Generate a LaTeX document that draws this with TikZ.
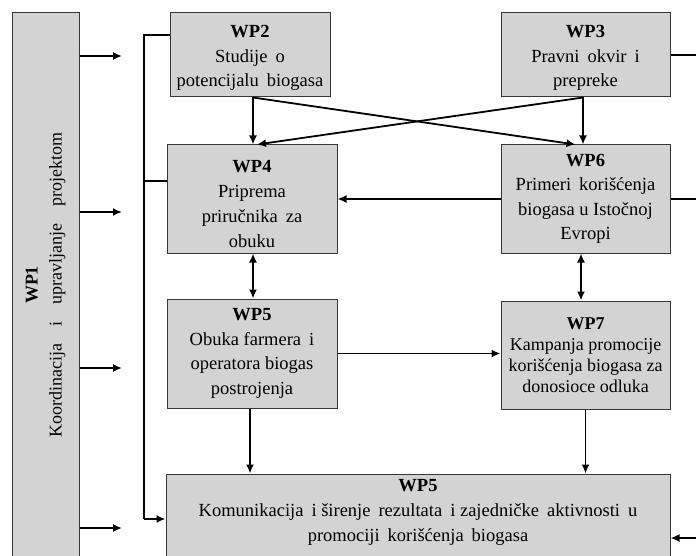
\documentclass[tikz,border=0pt]{standalone}
\usepackage{fontspec}
\setmainfont{Liberation Serif}
\usetikzlibrary{arrows.meta,calc}
\definecolor{boxfill}{RGB}{211,211,211}
\definecolor{boxline}{RGB}{55,55,55}
\newcommand{\ws}{\hspace{8pt}}
\tikzset{
  wpbox/.style={draw=boxline, fill=boxfill, line width=1pt, rectangle, inner sep=0pt,
    align=center, font=\fontsize{18.5}{24.5}\selectfont},
  arr/.style={line width=1.8pt, -{Latex[length=9pt,width=8pt]}},
  darr/.style={line width=1.8pt, {Latex[length=9pt,width=8pt]}-{Latex[length=9pt,width=8pt]}},
  plain/.style={line width=1.8pt},
  txt/.style={align=center, font=\fontsize{18.5}{25}\selectfont, inner sep=0pt}
}
\begin{document}
\begin{tikzpicture}[x=1pt,y=-1pt]
\useasboundingbox (0,0) rectangle (696,556);
\clip (0,0) rectangle (696,556);
% WP1 bar
\node[wpbox, minimum width=67pt, minimum height=550pt] (wp1) at (45.5,288) {};
\node[txt, rotate=90, anchor=center, font=\fontsize{18}{24}\selectfont] (wp1t) at (45.5,285) {\textbf{WP1}\\Koordinacija\hspace{17pt}i\hspace{17pt}upravljanje\hspace{17pt}projektom};
% boxes
\node[wpbox, minimum width=160pt, minimum height=84pt] (wp2) at (250,55) {\rule{0pt}{18pt}\textbf{WP2}\\Studije\ws o\\potencijalu\ws biogasa};
\node[wpbox, minimum width=169pt, minimum height=84pt] (wp3) at (585.5,55) {\rule{0pt}{18pt}\textbf{WP3}\\Pravni\ws okvir\ws i\\prepreke};
\node[wpbox, minimum width=170pt, minimum height=108pt,
  label={[txt, yshift=-5pt]center:\textbf{WP4}\\Priprema\\priručnika\ws za\\obuku}] (wp4) at (252,199) {};
\node[wpbox, minimum width=169pt, minimum height=108pt] (wp6) at (585.5,199) {\textbf{WP6}\\Primeri\ws korišćenja\\biogasa u Istočnoj\\Evropi};
\node[wpbox, minimum width=170pt, minimum height=109pt] (wp5m) at (252,353.5) {\textbf{WP5}\\Obuka farmera\ws i\\operatora biogas\\postrojenja};
\node[wpbox, minimum width=169pt, minimum height=108pt, font=\fontsize{18}{21}\selectfont] (wp7) at (585.5,355) {\textbf{WP7}\\Kampanja promocije\\korišćenja biogasa za\\donosioce odluka};
\node[wpbox, minimum width=504pt, minimum height=90pt] (wp5b) at (418,519) {};
\node[txt] (wp5bt) at (418,512) {\textbf{WP5}\\Komunikacija\ws i širenje\ws rezultata\ws i zajedničke\ws aktivnosti\ws u\\promociji\ws korišćenja\ws biogasa};
% WP1 outgoing arrows
\coordinate (a1) at (122,56);
\coordinate (a2) at (122,212);
\coordinate (a3) at (122,368);
\coordinate (a4) at (122,528);
\foreach \c in {a1,a2,a3,a4} \draw[arr] (\c -| wp1.east) -- (\c);
% bus line
\coordinate (bt) at (144,35);
\coordinate (bm) at (144,181);
\coordinate (bb) at (144,519);
\draw[plain] (wp2.west |- bt) -- (bt) -- (bb);
\draw[arr] (bb) -- (bb -| wp5b.west);
\draw[plain] (bm) -- (bm -| wp4.west);
% top cross
\coordinate (s2) at ($(wp2.south)+(3,0)$);
\coordinate (s3) at ($(wp3.south)+(-2.5,0)$);
\draw[arr] (s2) -- (s2 |- wp4.north);
\draw[arr] (s3) -- (s3 |- wp6.north);
\draw[arr] (s2) -- ($(wp6.north)+(-10,0)$);
\draw[arr] (s3) -- ($(wp4.north)+(5,0)$);
% WP6 -> WP4
\draw[arr] (wp6.west) -- (wp4.west -| wp4.east);
% right side lines
\coordinate (r1) at (696,55);
\coordinate (r2) at (696,199);
\coordinate (r3) at (696,538);
\draw[plain] (wp3.east) -- (r1);
\draw[plain] (wp6.east) -- (r2);
\draw[arr] (r3) -- (r3 -| wp5b.east);
% vertical double arrows
\coordinate (d1) at ($(wp4.south)+(1,0)$);
\coordinate (d2) at ($(wp6.south)+(-4.5,0)$);
\draw[darr] (d1) -- (d1 |- wp5m.north);
\draw[darr] (d2) -- (d2 |- wp7.north);
% WP5 -> WP7
\draw[arr] (wp5m.east) -- (wp5m.east -| wp7.west);
% down to bottom box
\coordinate (e1) at ($(wp5m.south)+(-2,0)$);
\coordinate (e2) at (wp7.south);
\draw[arr] (e1) -- (e1 |- wp5b.north);
\draw[arr] (e2) -- (e2 |- wp5b.north);
\end{tikzpicture}
\end{document}
